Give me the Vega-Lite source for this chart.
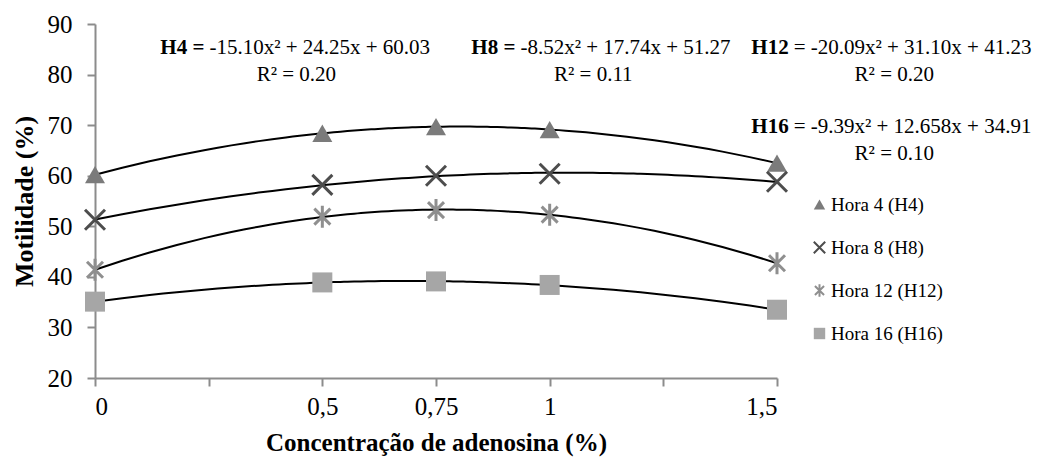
{
  "$schema": "https://vega.github.io/schema/vega-lite/v6.json",
  "autosize": {"type": "none"},
  "width": 682,
  "height": 354,
  "padding": {"left": 95, "top": 24, "right": 272, "bottom": 83},
  "background": "white",
  "config": {
    "font": "Liberation Serif",
    "view": {"stroke": null},
    "axis": {"grid": false, "domainColor": "#8c8c8c", "domainWidth": 2, "tickColor": "#8c8c8c", "tickWidth": 2, "tickSize": 8, "labelFont": "Liberation Serif", "labelFontSize": 25, "labelColor": "#000000", "titleFont": "Liberation Serif", "titleFontSize": 25, "titleFontWeight": "bold", "titleColor": "#000000"},
    "legend": {"labelFont": "Liberation Serif", "labelFontSize": 19, "labelColor": "#000000"}
  },
  "datasets": {
    "pts": [
      {"conc": 0, "mot": 60.2, "serie": "Hora 4 (H4)"},
      {"conc": 0.5, "mot": 68.4, "serie": "Hora 4 (H4)"},
      {"conc": 0.75, "mot": 69.7, "serie": "Hora 4 (H4)"},
      {"conc": 1, "mot": 69.1, "serie": "Hora 4 (H4)"},
      {"conc": 1.5, "mot": 62.5, "serie": "Hora 4 (H4)"},
      {"conc": 0, "mot": 51.3, "serie": "Hora 8 (H8)"},
      {"conc": 0.5, "mot": 58.2, "serie": "Hora 8 (H8)"},
      {"conc": 0.75, "mot": 60.0, "serie": "Hora 8 (H8)"},
      {"conc": 1, "mot": 60.4, "serie": "Hora 8 (H8)"},
      {"conc": 1.5, "mot": 58.8, "serie": "Hora 8 (H8)"},
      {"conc": 0, "mot": 41.4, "serie": "Hora 12 (H12)"},
      {"conc": 0.5, "mot": 51.9, "serie": "Hora 12 (H12)"},
      {"conc": 0.75, "mot": 53.2, "serie": "Hora 12 (H12)"},
      {"conc": 1, "mot": 52.3, "serie": "Hora 12 (H12)"},
      {"conc": 1.5, "mot": 42.7, "serie": "Hora 12 (H12)"},
      {"conc": 0, "mot": 35.1, "serie": "Hora 16 (H16)"},
      {"conc": 0.5, "mot": 38.9, "serie": "Hora 16 (H16)"},
      {"conc": 0.75, "mot": 39.1, "serie": "Hora 16 (H16)"},
      {"conc": 1, "mot": 38.4, "serie": "Hora 16 (H16)"},
      {"conc": 1.5, "mot": 33.5, "serie": "Hora 16 (H16)"}
    ],
    "ann": [
      {"ax": 0.245, "ay": 85.26, "label": "H4 =", "kind": "b"},
      {"ax": 0.245, "ay": 85.26, "label": "-15.10x² + 24.25x + 60.03", "kind": "r"},
      {"ax": 0.443, "ay": 79.9, "label": "R² = 0.20", "kind": "c"},
      {"ax": 0.929, "ay": 85.26, "label": "H8 =", "kind": "b"},
      {"ax": 0.929, "ay": 85.26, "label": "-8.52x² + 17.74x + 51.27", "kind": "r"},
      {"ax": 1.096, "ay": 79.9, "label": "R² = 0.11", "kind": "c"},
      {"ax": 1.53, "ay": 85.26, "label": "H12", "kind": "b"},
      {"ax": 1.53, "ay": 85.26, "label": "= -20.09x² + 31.10x + 41.23", "kind": "r"},
      {"ax": 1.758, "ay": 79.9, "label": "R² = 0.20", "kind": "c"},
      {"ax": 1.53, "ay": 69.6, "label": "H16", "kind": "b"},
      {"ax": 1.53, "ay": 69.6, "label": "= -9.39x² + 12.658x + 34.91", "kind": "r"},
      {"ax": 1.758, "ay": 64.3, "label": "R² = 0.10", "kind": "c"}
    ]
  },
  "layer": [
    {
      "data": {"name": "pts"},
      "transform": [{"regression": "mot", "on": "conc", "groupby": ["serie"], "method": "poly", "order": 2}],
      "mark": {"type": "line", "color": "#000000", "strokeWidth": 2},
      "encoding": {
        "x": {"field": "conc", "type": "quantitative", "scale": {"domain": [0, 1.5], "nice": false, "zero": false},
          "axis": {"title": "Concentração de adenosina (%)", "values": [0, 0.25, 0.5, 0.75, 1, 1.25, 1.5], "labelPadding": 8, "titlePadding": 11,
            "labelExpr": "datum.value == 0.25 || datum.value == 1.25 ? '' : replace(toString(datum.value), '.', ',')"}},
        "y": {"field": "mot", "type": "quantitative", "scale": {"domain": [20, 90], "nice": false, "zero": false},
          "axis": {"title": "Motilidade (%)", "titleFontSize": 26, "values": [20, 30, 40, 50, 60, 70, 80, 90], "labelPadding": 15, "titlePadding": 10}},
        "detail": {"field": "serie"}
      }
    },
    {
      "data": {"name": "pts"},
      "mark": {"type": "point", "strokeWidth": 3, "opacity": 1, "fillOpacity": 1, "strokeOpacity": 1},
      "encoding": {
        "x": {"field": "conc", "type": "quantitative"},
        "y": {"field": "mot", "type": "quantitative"},
        "shape": {"field": "serie", "type": "nominal", "scale": {"domain": ["Hora 4 (H4)", "Hora 8 (H8)", "Hora 12 (H12)", "Hora 16 (H16)"], "range": ["triangle-up", "M-1,-1L1,1M-1,1L1,-1", "M0,-1.1L0,1.1M-0.8,-0.8L0.8,0.8M-0.8,0.8L0.8,-0.8", "square"]},
          "legend": {"title": null, "orient": "none", "legendX": 715, "legendY": 171, "padding": 0, "rowPadding": 22, "labelOffset": 2, "symbolSize": 130, "symbolStrokeWidth": 2}},
        "fill": {"field": "serie", "type": "nominal", "scale": {"domain": ["Hora 4 (H4)", "Hora 8 (H8)", "Hora 12 (H12)", "Hora 16 (H16)"], "range": ["#7b7b7b", "transparent", "transparent", "#a6a6a6"]}, "legend": {"title": null}},
        "stroke": {"field": "serie", "type": "nominal", "scale": {"domain": ["Hora 4 (H4)", "Hora 8 (H8)", "Hora 12 (H12)", "Hora 16 (H16)"], "range": ["transparent", "#4d4d4d", "#8f8f8f", "transparent"]}, "legend": {"title": null}},
        "size": {"value": 400}
      }
    },
    {
      "data": {"name": "ann"},
      "transform": [{"filter": "datum.kind == 'b'"}],
      "mark": {"type": "text", "align": "right", "baseline": "middle", "dx": -2, "fontSize": 21, "fontWeight": "bold", "font": "Liberation Serif", "color": "#000000"},
      "encoding": {"x": {"field": "ax", "type": "quantitative"}, "y": {"field": "ay", "type": "quantitative"}, "text": {"field": "label"}}
    },
    {
      "data": {"name": "ann"},
      "transform": [{"filter": "datum.kind == 'r'"}],
      "mark": {"type": "text", "align": "left", "baseline": "middle", "dx": 3, "fontSize": 21, "font": "Liberation Serif", "color": "#000000"},
      "encoding": {"x": {"field": "ax", "type": "quantitative"}, "y": {"field": "ay", "type": "quantitative"}, "text": {"field": "label"}}
    },
    {
      "data": {"name": "ann"},
      "transform": [{"filter": "datum.kind == 'c'"}],
      "mark": {"type": "text", "align": "center", "baseline": "middle", "fontSize": 21, "font": "Liberation Serif", "color": "#000000"},
      "encoding": {"x": {"field": "ax", "type": "quantitative"}, "y": {"field": "ay", "type": "quantitative"}, "text": {"field": "label"}}
    }
  ]
}
